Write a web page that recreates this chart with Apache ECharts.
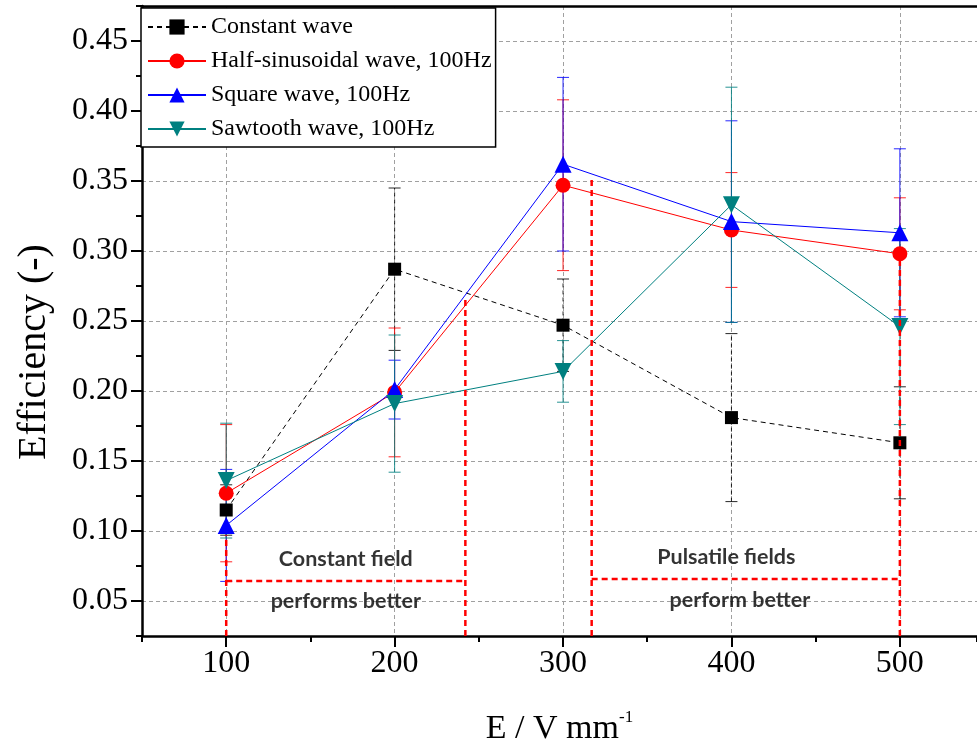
<!DOCTYPE html>
<html><head><meta charset="utf-8">
<script src="https://cdn.jsdelivr.net/npm/echarts@6/dist/echarts.min.js"></script>
<style>html,body{margin:0;padding:0;background:#fff}#c{width:977px;height:751px}</style>
</head><body><div id="c"></div>
<script>
// ---- data ----
const categories = [100, 200, 300, 400, 500];
const seriesNames = ['Constant wave', 'Half-sinusoidal wave, 100Hz', 'Square wave, 100Hz', 'Sawtooth wave, 100Hz'];
const constantWave = [0.115, 0.287, 0.247, 0.181, 0.163];
const constantErr = [0.018, 0.058, 0.033, 0.060, 0.040];
const halfSinWave = [0.127, 0.199, 0.347, 0.315, 0.298];
const halfSinErr = [0.049, 0.046, 0.061, 0.041, 0.040];
const squareWave = [0.104, 0.201, 0.362, 0.321, 0.313];
const squareErr = [0.040, 0.021, 0.062, 0.072, 0.060];
const sawtoothWave = [0.136, 0.191, 0.214, 0.333, 0.246];
const sawtoothErr = [0.041, 0.049, 0.022, 0.084, 0.070];
const xTickLabels = [100, 200, 300, 400, 500];
const yTickLabels = [0.05, 0.10, 0.15, 0.20, 0.25, 0.30, 0.35, 0.40, 0.45];
// red dashed region dividers (x, y pairs in data units)
const dividerSegments = [
  [[100, 0.025], [100, 0.097]],
  [[100, 0.0643], [242, 0.0643]],
  [[242, 0.025], [242, 0.267]],
  [[317, 0.025], [317, 0.351]],
  [[317, 0.0657], [500, 0.0657]],
  [[500, 0.025], [500, 0.300]]
];
const annotationTexts = ['Constant field', 'performs better', 'Pulsatile fields', 'perform better'];
const annotationX = [171, 171, 397, 405];
const annotationY = [0.080, 0.050, 0.0814, 0.0507];

// ---- chart ----
const SERIF = 'Liberation Serif';
const X_MIN = 50, X_MAX = 545.8; // plot is cropped on the right in the reference
const chart = echarts.init(document.getElementById('c'));
const pts = v => categories.map((x, i) => [x, v[i]]);

function errSeries(name, vals, errs, color, dashed) {
  return {
    type: 'custom', name: name + ' error', silent: true, z: 2,
    data: categories.map((x, i) => [x, vals[i] - errs[i], vals[i] + errs[i]]),
    encode: { x: 0, y: [1, 2] },
    renderItem(params, api) {
      const x = api.value(0);
      const lo = api.coord([x, api.value(1)]);
      const hi = api.coord([x, api.value(2)]);
      const w = 6;
      const style = { stroke: color, lineWidth: 1, opacity: 0.85, lineDash: dashed ? [4, 3] : null };
      return {
        type: 'group', children: [
          { type: 'line', shape: { x1: lo[0], y1: lo[1], x2: hi[0], y2: hi[1] }, style },
          { type: 'line', shape: { x1: lo[0] - w, y1: lo[1], x2: lo[0] + w, y2: lo[1] }, style: { stroke: color, lineWidth: 1, opacity: 0.85 } },
          { type: 'line', shape: { x1: hi[0] - w, y1: hi[1], x2: hi[0] + w, y2: hi[1] }, style: { stroke: color, lineWidth: 1, opacity: 0.85 } }
        ]
      };
    }
  };
}

function lineSeries(name, vals, color, symbol, size, rotate, dashed) {
  return {
    type: 'line', name, data: pts(vals), symbol, symbolSize: size, symbolRotate: rotate,
    z: 3, silent: true,
    lineStyle: { color, width: 1, type: dashed ? [5, 4] : 'solid' },
    itemStyle: { color, opacity: 1 },
    emphasis: { disabled: true }
  };
}

const gridLine = { show: true, lineStyle: { color: '#a0a0a0', width: 1, type: [4, 3] } };

const series = [
  errSeries(seriesNames[0], constantWave, constantErr, '#000000', true),
  errSeries(seriesNames[1], halfSinWave, halfSinErr, '#ff0000', false),
  errSeries(seriesNames[2], squareWave, squareErr, '#0000ff', false),
  errSeries(seriesNames[3], sawtoothWave, sawtoothErr, '#008080', false),
  lineSeries(seriesNames[0], constantWave, '#000000', 'rect', 13, 0, true),
  lineSeries(seriesNames[1], halfSinWave, '#ff0000', 'circle', 15, 0, false),
  lineSeries(seriesNames[2], squareWave, '#0000ff', 'triangle', 17, 0, false),
  lineSeries(seriesNames[3], sawtoothWave, '#008080', 'triangle', 17, 180, false)
];
dividerSegments.forEach((seg, i) => {
  series.push({
    type: 'line', name: 'divider' + i, data: seg, symbol: 'none', silent: true, z: 4,
    lineStyle: { color: '#ff0000', width: 2.5, type: [6, 4] }
  });
});
series.push({
  type: 'scatter', name: 'annotations', symbolSize: 0, silent: true, z: 5,
  data: annotationTexts.map((t, i) => [annotationX[i], annotationY[i], t]),
  label: {
    show: true, position: 'inside', formatter: p => p.data[2],
    fontFamily: 'Lato', fontWeight: 'bold', fontSize: 21.5, color: '#000'
  }
});

chart.setOption({
  animation: false,
  backgroundColor: '#fff',
  grid: { left: 142, top: 6, right: 0, bottom: 115, show: false },
  legend: {
    data: seriesNames, orient: 'vertical', left: 141, top: 8,
    padding: [7, 4, 6, 6], backgroundColor: '#fff', borderColor: '#000', borderWidth: 1.5,
    itemWidth: 58, itemHeight: 19, itemGap: 10, selectedMode: false,
    textStyle: { fontFamily: SERIF, fontSize: 24, color: '#000' }
  },
  xAxis: [
    {
      type: 'value', min: X_MIN, max: X_MAX, position: 'bottom',
      axisLine: { show: true, lineStyle: { color: '#000', width: 2.5 } },
      axisTick: { show: true, customValues: xTickLabels, length: 11, lineStyle: { color: '#000', width: 2 } },
      axisLabel: { customValues: xTickLabels, fontFamily: SERIF, fontSize: 32, color: '#000', margin: 12 },
      splitLine: gridLine,
      name: '{a|E / V mm}{b|-1}', nameLocation: 'middle', nameGap: 73,
      nameTextStyle: { rich: {
        a: { fontFamily: SERIF, fontSize: 34, color: '#000', lineHeight: 40 },
        b: { fontFamily: SERIF, fontSize: 17, color: '#000', verticalAlign: 'top', lineHeight: 22 }
      } }
    },
    {
      type: 'value', min: X_MIN, max: X_MAX, interval: 100, position: 'bottom',
      axisLine: { show: false },
      axisTick: { show: true, length: 6, lineStyle: { color: '#000', width: 2 } },
      axisLabel: { show: false }, splitLine: { show: false }
    },
    {
      type: 'value', min: X_MIN, max: X_MAX, position: 'top',
      axisLine: { show: true, lineStyle: { color: '#000', width: 2.5 } },
      axisTick: { show: false }, axisLabel: { show: false }, splitLine: { show: false }
    }
  ],
  yAxis: [
    {
      type: 'value', min: 0.025, max: 0.475, position: 'left',
      axisLine: { show: true, lineStyle: { color: '#000', width: 2.5 } },
      axisTick: { show: true, customValues: yTickLabels, length: 11, lineStyle: { color: '#000', width: 2 } },
      axisLabel: { customValues: yTickLabels, formatter: v => v.toFixed(2), fontFamily: SERIF, fontSize: 32, color: '#000', margin: 14 },
      splitLine: gridLine,
      name: 'Efficiency (-)', nameLocation: 'middle', nameGap: 88,
      nameTextStyle: { fontFamily: SERIF, fontSize: 40, color: '#000', padding: [0, 62, 0, 0] }
    },
    {
      type: 'value', min: 0.025, max: 0.475, interval: 0.05, position: 'left',
      axisLine: { show: false },
      axisTick: { show: true, length: 6, lineStyle: { color: '#000', width: 2 } },
      axisLabel: { show: false }, splitLine: { show: false }
    }
  ],
  series
});
</script></body></html>
